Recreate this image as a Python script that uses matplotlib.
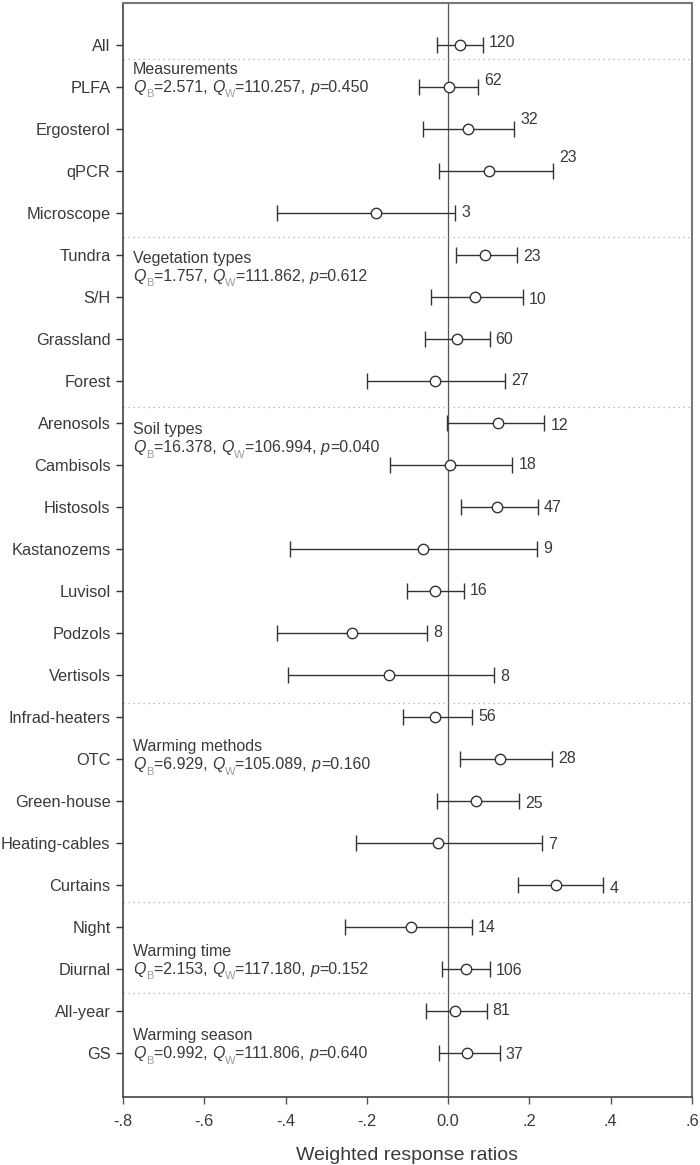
import numpy as np
import matplotlib
matplotlib.use("Agg")
import matplotlib.pyplot as plt

plt.rcParams['font.family'] = ['Liberation Sans', 'DejaVu Sans']

# ---------------- data ----------------
categories = ["All", "PLFA", "Ergosterol", "qPCR", "Microscope",
              "Tundra", "S/H", "Grassland", "Forest",
              "Arenosols", "Cambisols", "Histosols", "Kastanozems", "Luvisol", "Podzols", "Vertisols",
              "Infrad-heaters", "OTC", "Green-house", "Heating-cables", "Curtains",
              "Night", "Diurnal", "All-year", "GS"]
means = [0.030, 0.001, 0.048, 0.101, -0.178,
         0.091, 0.065, 0.021, -0.032,
         0.122, 0.005, 0.119, -0.063, -0.032, -0.236, -0.145,
         -0.032, 0.128, 0.069, -0.025, 0.265,
         -0.092, 0.045, 0.018, 0.047]
lower = [-0.027, -0.071, -0.063, -0.022, -0.421,
         0.020, -0.041, -0.056, -0.199,
         -0.002, -0.144, 0.032, -0.388, -0.102, -0.421, -0.394,
         -0.111, 0.029, -0.028, -0.227, 0.172,
         -0.255, -0.014, -0.055, -0.023]
upper = [0.086, 0.073, 0.162, 0.258, 0.018,
         0.170, 0.183, 0.102, 0.141,
         0.237, 0.158, 0.220, 0.219, 0.038, -0.051, 0.114,
         0.059, 0.255, 0.174, 0.232, 0.382,
         0.059, 0.103, 0.095, 0.127]
n_obs = [120, 62, 32, 23, 3,
         23, 10, 60, 27,
         12, 18, 47, 9, 16, 8, 8,
         56, 28, 25, 7, 4,
         14, 106, 81, 37]

group_names = ["Measurements", "Vegetation types", "Soil types",
               "Warming methods", "Warming time", "Warming season"]
QB = ["2.571", "1.757", "16.378", "6.929", "2.153", "0.992"]
QW = ["110.257", "111.862", "106.994", "105.089", "117.180", "111.806"]
pvals = ["0.450", "0.612", "0.040", "0.160", "0.152", "0.640"]

xticks = [-0.8, -0.6, -0.4, -0.2, 0.0, 0.2, 0.4, 0.6]
xticklabels = ["-.8", "-.6", "-.4", "-.2", "0.0", ".2", ".4", ".6"]
xlabel = "Weighted response ratios"

# ---------------- layout ----------------
W, H = 700, 1165
fig = plt.figure(figsize=(W / 100, H / 100), dpi=100)
ax = fig.add_axes([123 / W, 1 - 1097 / H, 569 / W, 1094 / H])

rows = np.arange(len(categories))
m = np.array(means)
lo = np.array(lower)
hi = np.array(upper)

dark = "#333333"
txtc = "#3a3a3a"

ax.axvline(0, color="#555555", lw=0.9, zorder=1)

sep_rows = [0.33, 4.57, 8.62, 15.67, 20.40, 22.57]
for s in sep_rows:
    ax.axhline(s, color="#aaaaaa", lw=0.9, ls=(0, (1, 3)), zorder=1)

ax.errorbar(m, rows, xerr=[m - lo, hi - m], fmt='o', mfc='white', mec=dark,
            mew=1.0, ms=7.5, ecolor=dark, elinewidth=1.0, capsize=5.5,
            capthick=1.0, zorder=3)

# n labels (vertical offsets in px, positive = down)
lab_dy = [-2, -6, -9, -13, 0, 2, 3, 1, 0, 3, 0, 1, 0, 0, 0, 2, 0, 0, 3, 2, 4, 1, 2, 0, 2]
for i in range(len(categories)):
    ax.annotate(str(n_obs[i]), xy=(hi[i], rows[i]), xytext=(4.3, -lab_dy[i] * 0.72),
                textcoords='offset points', ha='left', va='center',
                fontsize=11.5, color=txtc)


def rich_text(ax, x, y, pieces):
    s0, p0, dy0 = pieces[0]
    first = ax.text(x, y, s0, ha='left', va='baseline', **p0)
    prev = first
    for s, props, dy in pieces[1:]:
        t = ax.annotate(s, xy=(1, 0), xycoords=(prev, first),
                        xytext=(0.2, dy), textcoords='offset points',
                        ha='left', va='bottom', **props)
        prev = t
    return first


norm = dict(fontsize=11.5, color=txtc)
ital = dict(fontsize=11.5, color=txtc, style='italic')
sub = dict(fontsize=8, color="#9a9a9a")

q_rows = [0.98, 5.48, 9.57, 17.12, 21.98, 24.0]
text_x = -0.775
row_px = 42.0
for g in range(len(group_names)):
    base = q_rows[g] + 5.5 / row_px
    ax.text(text_x, base - 18 / row_px, group_names[g], ha='left', va='baseline', **norm)
    rich_text(ax, text_x, base, [
        ("Q", ital, 0), ("B", sub, -3), ("=" + QB[g] + ", ", norm, 0),
        ("Q", ital, 0), ("W", sub, -3), ("=" + QW[g] + ", ", norm, 0),
        ("p", ital, 0), ("=" + pvals[g], norm, 0),
    ])

ax.set_xlim(-0.8, 0.6)
ax.set_ylim(25.05, -1.0)
ax.set_xticks(xticks)
ax.set_xticklabels(xticklabels)
ax.set_yticks(rows)
ax.set_yticklabels(categories)
ax.tick_params(axis='x', length=5, width=1.0, pad=7, labelsize=11.8, labelcolor=txtc, color="#555555")
ax.tick_params(axis='y', length=5, width=1.0, pad=4, labelsize=11.8, labelcolor=txtc, color=dark)
ax.set_xlabel(xlabel, fontsize=14, color=txtc, labelpad=13)

for side in ["left", "bottom"]:
    ax.spines[side].set_color("#444444")
    ax.spines[side].set_linewidth(1.2)
for side in ["top", "right"]:
    ax.spines[side].set_color("#777777")
    ax.spines[side].set_linewidth(1.5)

fig.savefig("out.png", dpi=100)
